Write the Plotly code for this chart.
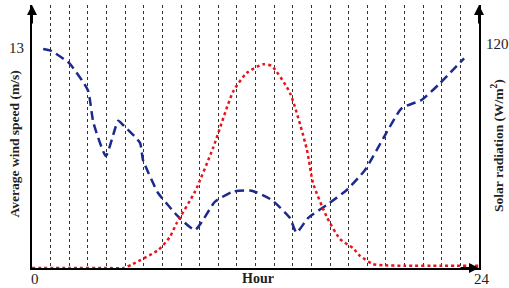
import plotly.graph_objects as go

# Wind speed (m/s) vs hour
wind_hours = [0.6, 1.0, 2.0, 3.0, 3.3, 3.97, 4.63, 4.89, 5.8, 5.96, 6.77, 7.3, 7.77, 8.75,
              9.83, 10.8, 11.8, 12.87, 13.85, 14.2, 14.82, 15.82, 16.9, 17.88, 18.86,
              19.85, 20.92, 21.9, 23.2]
wind_speed = [12.94, 12.84, 12.1, 10.5, 8.57, 6.62, 8.7, 8.45, 7.39, 6.38, 4.43, 3.72, 3.13, 2.25,
              3.92, 4.51, 4.57, 4.02, 2.95, 2.09, 2.95, 3.72, 4.61, 5.79, 7.66,
              9.44, 9.93, 10.91, 12.39]

# Solar radiation (W/m2) vs hour
solar_hours = [0, 2, 4.0, 4.9, 5.4, 6.77, 7.4, 7.77, 8.75, 9.72, 10.8, 11.53, 12.4, 12.87,
               13.85, 14.75, 15.09, 15.82, 16.54, 17.23, 17.6, 18.3, 18.85, 20, 22, 24]
solar = [0, 0, 0, 0, 2.1, 9.6, 16.6, 24.1, 40.9, 64.3, 94.5, 104.5, 109.1, 108.2,
         93.75, 63.8, 45.5, 27.5, 15.5, 10.7, 6.6, 2.1, 1.5, 1.2, 1.2, 1.2]

x_ticks = [0, 24]
wind_ticks = [13]
solar_ticks = [120]

SERIF = "Liberation Serif"
TXT = "#222"

fig = go.Figure()
fig.add_trace(go.Scatter(
    x=solar_hours, y=solar, yaxis="y2", mode="lines",
    line=dict(color="#e8141c", width=2.5, dash="dot", shape="spline", smoothing=0.6),
    showlegend=False, hoverinfo="skip"))
fig.add_trace(go.Scatter(
    x=wind_hours, y=wind_speed, mode="lines",
    line=dict(color="#1c2a8c", width=2.5, dash="9px,5px", shape="spline", smoothing=0.5),
    showlegend=False, hoverinfo="skip"))

annotations = []
# tick labels drawn as annotations anchored to the axes' data coordinates
for v in x_ticks:
    annotations.append(dict(text=str(v), xref="x", yref="paper", x=v, y=0,
                            xanchor="center", yanchor="top", yshift=-1, xshift=3,
                            showarrow=False, font=dict(family=SERIF, size=15, color=TXT)))
for v in wind_ticks:
    annotations.append(dict(text=str(v), xref="paper", yref="y", x=0, y=v,
                            xanchor="right", yanchor="middle", xshift=-6,
                            showarrow=False, font=dict(family=SERIF, size=15, color=TXT)))
for v in solar_ticks:
    annotations.append(dict(text=str(v), xref="paper", yref="y2", x=1, y=v,
                            xanchor="left", yanchor="middle", xshift=5,
                            showarrow=False, font=dict(family=SERIF, size=15, color=TXT)))

annotations += [
    dict(text="<b>Hour</b>", xref="paper", yref="paper", x=0.505, y=0,
         xanchor="center", yanchor="top", yshift=-1, showarrow=False,
         font=dict(family=SERIF, size=14, color=TXT)),
    dict(text="<b>Average wind speed (m/s)</b>", xref="paper", yref="paper",
         x=0, y=0.47, xanchor="center", yanchor="middle", xshift=-18,
         textangle=-90, showarrow=False,
         font=dict(family=SERIF, size=13.5, color=TXT)),
    dict(text="<b>Solar radiation (W/m<sup>2</sup>)</b>", xref="paper", yref="paper",
         x=1, y=0.464, xanchor="center", yanchor="middle", xshift=19,
         textangle=-90, showarrow=False,
         font=dict(family=SERIF, size=13.5, color=TXT)),
    # axis arrows
    dict(text="", xref="paper", yref="paper", x=0, y=1, ax=0, ay=20,
         showarrow=True, arrowhead=2, arrowsize=1, arrowwidth=2, arrowcolor="black"),
    dict(text="", xref="paper", yref="paper", x=1, y=1, ax=0, ay=20,
         showarrow=True, arrowhead=2, arrowsize=1, arrowwidth=2, arrowcolor="black"),
    dict(text="", xref="paper", yref="paper", x=1, y=0, ax=-20, ay=0,
         showarrow=True, arrowhead=2, arrowsize=1, arrowwidth=2, arrowcolor="black"),
]

fig.update_layout(
    width=509, height=288,
    margin=dict(l=32, r=30, t=5, b=20),
    plot_bgcolor="white", paper_bgcolor="white",
    font=dict(family=SERIF, size=14, color=TXT),
    xaxis=dict(
        range=[0, 24], tickvals=x_ticks, showticklabels=False,
        showgrid=False, zeroline=False, showline=True, linecolor="black", linewidth=2,
        ticks="", automargin=False,
        minor=dict(dtick=1, tick0=0, showgrid=True, gridcolor="#333", gridwidth=1,
                   griddash="3px,3px"),
    ),
    yaxis=dict(
        range=[0, 15.54], tickvals=wind_ticks, showticklabels=False,
        showgrid=False, zeroline=False, showline=True, linecolor="black", linewidth=2,
        ticks="", automargin=False,
    ),
    yaxis2=dict(
        range=[0, 140.9], overlaying="y", side="right",
        tickvals=solar_ticks, showticklabels=False,
        showgrid=False, zeroline=False, showline=True, linecolor="black", linewidth=2,
        ticks="", automargin=False,
    ),
    annotations=annotations,
)

fig.write_html("out.html")
